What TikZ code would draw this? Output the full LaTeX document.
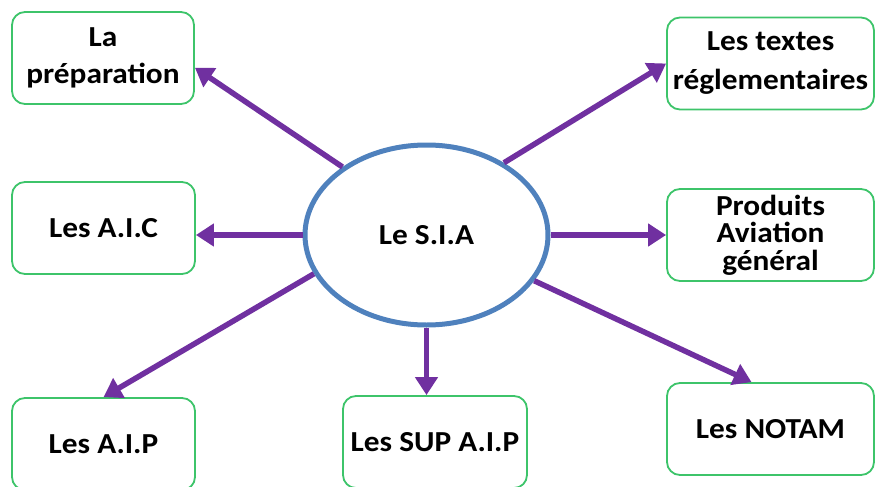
\documentclass[tikz,border=0pt]{standalone}
\usepackage{fontspec}
\setmainfont{Carlito}[FakeStretch=1.08]
\usetikzlibrary{arrows.meta, shapes.geometric}
\definecolor{siablue}{HTML}{4F81BD}
\definecolor{siapurple}{HTML}{7030A0}
\definecolor{siagreen}{HTML}{3DC46A}

\begin{document}
\begin{tikzpicture}[x=1pt,y=-1pt]
\tikzstyle{box}=[draw=siagreen, line width=1.8pt, rounded corners=13pt, minimum height=92pt, inner sep=0pt, align=center, font=\bfseries\fontsize{29}{37}\selectfont]
\tikzstyle{link}=[draw=siapurple, line width=5.5pt, -{Triangle[length=18pt,width=22pt]}]
\useasboundingbox (0,0) rectangle (875,487);

\node[ellipse, draw=siablue, line width=5pt, minimum width=243pt, minimum height=180pt, inner sep=0pt, font=\bfseries\fontsize{29}{35}\selectfont] (sia) at (426.5,235) {Le S.I.A};

\node[box, minimum width=182pt] (prep) at (103,58) {La\\préparation};
\node[box, minimum width=207pt, font=\bfseries\fontsize{29}{39}\selectfont] (textes) at (770.5,63.5) {Les textes\\réglementaires};
\node[box, minimum width=183pt] (aic) at (103.5,228) {Les A.I.C};
\node[box, minimum width=207pt, font=\bfseries\fontsize{29}{27.5}\selectfont] (prod) at (770.5,235) {Produits\\Aviation\\général};
\node[box, minimum width=183pt] (aip) at (103.5,444) {Les A.I.P};
\node[box, minimum width=184pt] (sup) at (435,442) {Les SUP A.I.P};
\node[box, minimum width=207pt] (notam) at (770.5,429) {Les NOTAM};

\draw[link] (sia.141) -- (prep.-6);
\draw[link] (sia.43) -- (textes.west);
\draw[link] (sia.west) -- (sia.west -| aic.east);
\draw[link] (sia.east) -- (sia.east -| prod.west);
\draw[link] (sia.199) -- (aip.north);
\draw[link] (sia.south) -- (sia.south |- sup.north);
\draw[link] (sia.-23) -- (notam.112);

\end{tikzpicture}
\end{document}
